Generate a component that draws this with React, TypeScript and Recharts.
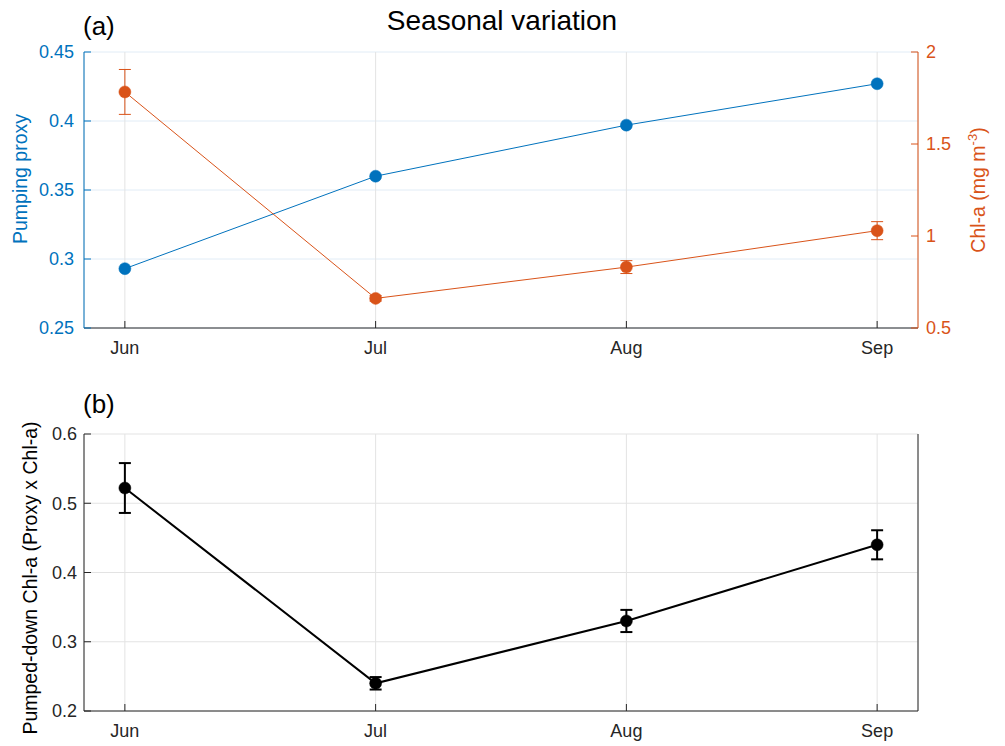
import React from 'react';
import { LineChart, Line, XAxis, YAxis, CartesianGrid, ErrorBar } from 'recharts';

const months = ['Jun', 'Jul', 'Aug', 'Sep'];
const monthIndex = [1, 2, 3, 4];
const pumpingProxy = [0.293, 0.36, 0.397, 0.427];
const chlA = [1.783, 0.661, 0.831, 1.029];
const chlAErr = [0.122, 0.015, 0.035, 0.049];
const pumpedDown = [0.522, 0.24, 0.33, 0.44];
const pumpedDownErr = [0.036, 0.009, 0.016, 0.021];
const proxyTicks = [0.25, 0.3, 0.35, 0.4, 0.45];
const chlTicks = [0.5, 1, 1.5, 2];
const pumpedTicks = [0.2, 0.3, 0.4, 0.5, 0.6];

const topData = months.map((m, i) => ({
  x: monthIndex[i],
  proxy: pumpingProxy[i],
  chl: chlA[i],
  chlErr: chlAErr[i],
}));
const bottomData = months.map((m, i) => ({
  x: monthIndex[i],
  pd: pumpedDown[i],
  pdErr: pumpedDownErr[i],
}));

const BLUE = '#0072BD';
const ORANGE = '#D95319';
const DARK = '#262626';
const FONT = '"Liberation Sans", Arial, Helvetica, sans-serif';
const X_DOMAIN: [number, number] = [0.837, 4.163];
const fmtMonth = (v: number) => months[monthIndex.indexOf(v)] ?? '';
const TICK = 18;

export default function App() {
  return (
    <div style={{ position: 'absolute', left: 0, top: 0, width: 1005, height: 746, background: '#fff', fontFamily: FONT }}>
      <div style={{ position: 'absolute', left: 0, top: 0 }}>
        <LineChart width={1005} height={360} data={topData} margin={{ top: 52, right: 0, bottom: 2, left: 0 }}>
          <CartesianGrid yAxisId="left" vertical={false} stroke="#e1ecf6" strokeWidth={1} />
          <CartesianGrid yAxisId="left" horizontal={false} stroke="#e3e3e3" strokeWidth={1} />
          <XAxis
            dataKey="x"
            type="number"
            domain={X_DOMAIN}
            ticks={monthIndex}
            tickFormatter={fmtMonth}
            allowDataOverflow
            interval={0}
            height={30}
            tickSize={-7}
            tickMargin={20}
            axisLine={{ stroke: DARK }}
            tickLine={{ stroke: DARK }}
            tick={{ fill: DARK, fontSize: TICK, fontFamily: FONT }}
          />
          <XAxis
            xAxisId="top"
            orientation="top"
            type="number"
            domain={X_DOMAIN}
            ticks={monthIndex}
            allowDataOverflow
            interval={0}
            height={0}
            tick={false}
            tickSize={-7}
            axisLine={{ stroke: DARK }}
            tickLine={{ stroke: DARK }}
          />
          <YAxis
            yAxisId="left"
            type="number"
            domain={[0.25, 0.45]}
            ticks={proxyTicks}
            allowDataOverflow
            interval={0}
            width={84}
            tickSize={-7}
            tickMargin={17}
            tickFormatter={(v: number) => String(v)}
            axisLine={{ stroke: BLUE }}
            tickLine={{ stroke: BLUE }}
            tick={{ fill: BLUE, fontSize: TICK, fontFamily: FONT }}
          />
          <YAxis
            yAxisId="right"
            orientation="right"
            type="number"
            domain={[0.5, 2]}
            ticks={chlTicks}
            allowDataOverflow
            interval={0}
            width={87}
            tickSize={-7}
            tickMargin={15}
            tickFormatter={(v: number) => String(v)}
            axisLine={{ stroke: ORANGE }}
            tickLine={{ stroke: ORANGE }}
            tick={{ fill: ORANGE, fontSize: TICK, fontFamily: FONT }}
          />
          <Line
            yAxisId="left"
            dataKey="proxy"
            stroke={BLUE}
            strokeWidth={1}
            dot={{ r: 6, fill: BLUE, stroke: BLUE, strokeWidth: 0.5 }}
            activeDot={false}
            isAnimationActive={false}
          />
          <Line
            yAxisId="right"
            dataKey="chl"
            stroke={ORANGE}
            strokeWidth={1}
            dot={{ r: 6, fill: ORANGE, stroke: ORANGE, strokeWidth: 0.5 }}
            activeDot={false}
            isAnimationActive={false}
          >
            <ErrorBar dataKey="chlErr" direction="y" width={6} stroke={ORANGE} strokeWidth={1} />
          </Line>
        </LineChart>
      </div>
      <div style={{ position: 'absolute', left: 0, top: 360 }}>
        <LineChart width={1005} height={386} data={bottomData} margin={{ top: 74, right: 0, bottom: 5, left: 0 }}>
          <CartesianGrid stroke="#e3e3e3" strokeWidth={1} />
          <XAxis
            dataKey="x"
            type="number"
            domain={X_DOMAIN}
            ticks={monthIndex}
            tickFormatter={fmtMonth}
            allowDataOverflow
            interval={0}
            height={30}
            tickSize={-7}
            tickMargin={20}
            axisLine={{ stroke: DARK }}
            tickLine={{ stroke: DARK }}
            tick={{ fill: DARK, fontSize: TICK, fontFamily: FONT }}
          />
          <XAxis
            xAxisId="top"
            orientation="top"
            type="number"
            domain={X_DOMAIN}
            ticks={monthIndex}
            allowDataOverflow
            interval={0}
            height={0}
            tick={false}
            tickSize={-7}
            axisLine={{ stroke: DARK }}
            tickLine={{ stroke: DARK }}
          />
          <YAxis
            type="number"
            domain={[0.2, 0.6]}
            ticks={pumpedTicks}
            allowDataOverflow
            interval={0}
            width={84}
            tickSize={-7}
            tickMargin={14}
            tickFormatter={(v: number) => String(v)}
            axisLine={{ stroke: DARK }}
            tickLine={{ stroke: DARK }}
            tick={{ fill: DARK, fontSize: TICK, fontFamily: FONT }}
          />
          <YAxis
            yAxisId="r"
            orientation="right"
            type="number"
            domain={[0.2, 0.6]}
            ticks={pumpedTicks}
            allowDataOverflow
            interval={0}
            width={87}
            tick={false}
            tickSize={-7}
            axisLine={{ stroke: DARK }}
            tickLine={{ stroke: DARK }}
          />
          <Line
            dataKey="pd"
            stroke="#000"
            strokeWidth={2}
            dot={{ r: 6, fill: '#000', stroke: '#000', strokeWidth: 0.5 }}
            activeDot={false}
            isAnimationActive={false}
          >
            <ErrorBar dataKey="pdErr" direction="y" width={6} stroke="#000" strokeWidth={2} />
          </Line>
        </LineChart>
      </div>
      <svg
        width={1005}
        height={746}
        style={{ position: 'absolute', left: 0, top: 0, pointerEvents: 'none' }}
        fontFamily={FONT}
      >
        <text x={502} y={30} textAnchor="middle" fontSize={28} fill="#000">Seasonal variation</text>
        <text x={83} y={35} fontSize={26} fill="#000">(a)</text>
        <text x={83} y={413} fontSize={26} fill="#000">(b)</text>
        <text x={27} y={179} textAnchor="middle" fontSize={19.5} fill={BLUE} transform="rotate(-90 27 179)">Pumping proxy</text>
        <text x={985} y={190} textAnchor="middle" fontSize={19.5} fill={ORANGE} transform="rotate(-90 985 190)">
          Chl-a (mg m<tspan dy={-8} fontSize={13}>-3</tspan><tspan dy={8}>)</tspan>
        </text>
        <text x={37} y={578} textAnchor="middle" fontSize={19.5} fill="#000" transform="rotate(-90 37 578)">Pumped-down Chl-a (Proxy x Chl-a)</text>
      </svg>
    </div>
  );
}
